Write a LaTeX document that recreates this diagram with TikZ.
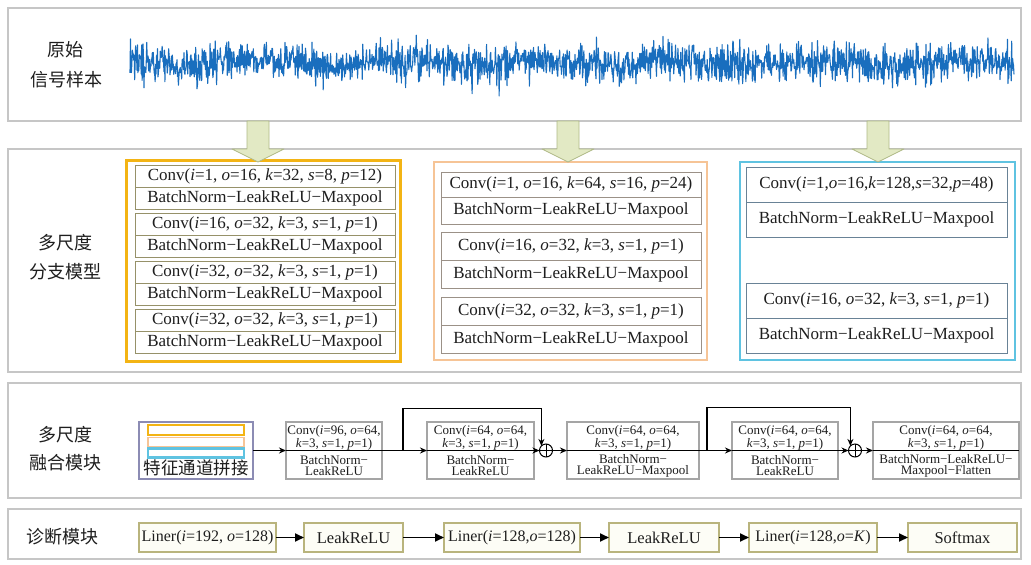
\documentclass[tikz,border=0pt]{standalone}
\usepackage{fontspec}
\setmainfont{Liberation Serif}
\newfontfamily\cjk{Noto Sans CJK SC}
\usetikzlibrary{arrows.meta,calc}

\definecolor{panelgray}{RGB}{198,198,198}
\definecolor{sigblue}{RGB}{25,110,190}
\definecolor{ybr}{RGB}{243,180,20}
\definecolor{obr}{RGB}{246,196,150}
\definecolor{bbr}{RGB}{95,195,225}
\definecolor{yrowc}{RGB}{150,145,105}
\definecolor{orowc}{RGB}{155,145,135}
\definecolor{browc}{RGB}{105,130,150}
\definecolor{arrfill}{RGB}{226,233,196}
\definecolor{arrdraw}{RGB}{175,185,135}
\definecolor{catdraw}{RGB}{140,140,180}
\definecolor{fboxc}{RGB}{165,165,165}
\definecolor{dboxc}{RGB}{185,180,125}
\definecolor{txt}{RGB}{30,30,30}

\newcommand\itv[1]{\textit{#1}}
\newcommand\fatarrow[1]{%
  \draw[fatarr] ($(#1)+(-11,0)$) -- ++(22,0) -- ++(0,28) -- ++(15,0)
    -- ++(-26,13) -- ++(-26,-13) -- ++(15,0) -- cycle;}

\begin{document}
\begin{tikzpicture}[x=1pt,y=-1pt,
  panel/.style={draw=panelgray, line width=1.5pt, fill=white, anchor=north west,
    inner sep=0, outer sep=0},
  lbl/.style={font=\cjk\fontsize{18}{30}\selectfont, text=txt, align=center, inner sep=0},
  branch/.style={line width=#1, fill=white, anchor=north west, inner sep=0, outer sep=0},
  rowbox/.style={draw=#1, line width=1pt, fill=white, anchor=north west, inner sep=0,
    outer sep=0, font=\fontsize{17}{20}\selectfont, text=txt},
  fatarr/.style={fill=arrfill, draw=arrdraw, line width=0.8pt, line join=round},
  sig/.style={sigblue, line width=1.1pt, line join=round},
  fbox/.style={draw=fboxc, line width=1.4pt, fill=white, anchor=north west,
    inner sep=0, outer sep=0, minimum height=57},
  ftxt/.style={font=\fontsize{13}{11}\selectfont, text=txt, align=center, inner sep=0},
  flow/.style={line width=1.4pt, black},
  tip/.style={-{Stealth[length=7pt,width=6pt]}},
  skipline/.style={line width=1.6pt, black},
  addnode/.style={circle, draw=black, line width=1pt, fill=white, minimum size=13,
    inner sep=0, outer sep=0},
  dbox/.style={draw=dboxc, line width=1.5pt, fill={rgb,255:red,253;green,253;blue,246},
    anchor=north west, inner sep=0, outer sep=0, minimum height=29,
    font=\fontsize{16.5}{20}\selectfont, text=txt},
  lin/.style={dbox, font=\fontsize{16}{20}\selectfont},
  darr/.style={line width=1.8pt, black, -{Triangle[length=9pt,width=8pt]}}
]
\useasboundingbox (0,0) rectangle (1031,565);
\fill[white] (0,0) rectangle (1031,565);

% ---------- panels ----------
\node[panel, minimum width=1013, minimum height=113] (P1) at (8,8) {};
\node[panel, minimum width=1013, minimum height=223] (P2) at (8,149) {};
\node[panel, minimum width=1013, minimum height=115] (P3) at (8,383) {};
\node[panel, minimum width=1013, minimum height=50]  (P4) at (8,509) {};

% ---------- raw signal ----------
\node[lbl] (L1a) at (65,50) {原始};
\node[lbl] (L1b) at (66,80) {信号样本};
\pgfmathsetseed{42}
\draw[sig] plot[domain=130:1014, samples=1900]
  (\x, {63 + 8.5*(rand+rand+rand) + 18*rand*rand*rand + 3*sin(2.5*\x)});

% ---------- multi-scale branches ----------
\node[lbl] (L2a) at (65,243) {多尺度};
\node[lbl] (L2b) at (65,272) {分支模型};

\node[branch=3pt, draw=ybr, minimum width=274, minimum height=201] (BY) at (126,160) {};
\node[branch=2pt, draw=obr, minimum width=273, minimum height=198] (BO) at (434,162) {};
\node[branch=2.5pt, draw=bbr, minimum width=275, minimum height=198] (BB) at (740,162) {};

% yellow branch
\tikzset{yr/.style={rowbox=yrowc, minimum width=260, minimum height=22}}
\node[yr] (y1c) at (135,165) {Conv(\itv{i}=1, \itv{o}=16, \itv{k}=32, \itv{s}=8, \itv{p}=12)};
\node[yr] (y1b) at (y1c.south west) {BatchNorm−LeakReLU−Maxpool};
\node[yr] (y2c) at (135,213) {Conv(\itv{i}=16, \itv{o}=32, \itv{k}=3, \itv{s}=1, \itv{p}=1)};
\node[yr] (y2b) at (y2c.south west) {BatchNorm−LeakReLU−Maxpool};
\node[yr] (y3c) at (135,261) {Conv(\itv{i}=32, \itv{o}=32, \itv{k}=3, \itv{s}=1, \itv{p}=1)};
\node[yr] (y3b) at (y3c.south west) {BatchNorm−LeakReLU−Maxpool};
\node[yr] (y4c) at (135,309) {Conv(\itv{i}=32, \itv{o}=32, \itv{k}=3, \itv{s}=1, \itv{p}=1)};
\node[yr] (y4b) at (y4c.south west) {BatchNorm−LeakReLU−Maxpool};

% orange branch
\tikzset{orr/.style={rowbox=orowc, minimum width=260, minimum height=#1}}
\node[orr=25] (o1c) at (441,172) {Conv(\itv{i}=1, \itv{o}=16, \itv{k}=64, \itv{s}=16, \itv{p}=24)};
\node[orr=27] (o1b) at (o1c.south west) {BatchNorm−LeakReLU−Maxpool};
\node[orr=28] (o2c) at (441,232) {Conv(\itv{i}=16, \itv{o}=32, \itv{k}=3, \itv{s}=1, \itv{p}=1)};
\node[orr=28] (o2b) at (o2c.south west) {BatchNorm−LeakReLU−Maxpool};
\node[orr=28] (o3c) at (441,297) {Conv(\itv{i}=32, \itv{o}=32, \itv{k}=3, \itv{s}=1, \itv{p}=1)};
\node[orr=28] (o3b) at (o3c.south west) {BatchNorm−LeakReLU−Maxpool};

% blue branch
\tikzset{br/.style={rowbox=browc, minimum width=261, minimum height=35}}
\node[br] (b1c) at (746,167) {Conv(\itv{i}=1,\itv{o}=16,\itv{k}=128,\itv{s}=32,\itv{p}=48)};
\node[br] (b1b) at (b1c.south west) {BatchNorm−LeakReLU−Maxpool};
\node[br] (b2c) at (746,283) {Conv(\itv{i}=16, \itv{o}=32, \itv{k}=3, \itv{s}=1, \itv{p}=1)};
\node[br] (b2b) at (b2c.south west) {BatchNorm−LeakReLU−Maxpool};

% arrows from the signal into each branch
\coordinate (a1) at (258,121);
\coordinate (a2) at (568,121);
\coordinate (a3) at (878,121);
\fatarrow{a1}
\fatarrow{a2}
\fatarrow{a3}

% ---------- fusion module ----------
\node[lbl] (L3a) at (65,435) {多尺度};
\node[lbl] (L3b) at (65,463) {融合模块};

\node[draw=catdraw, line width=1.5pt, fill=white, anchor=north west, inner sep=0,
  outer sep=0, minimum width=114, minimum height=57] (Cat) at (139,422) {};
\draw[draw=ybr, line width=2.8pt] (148,425) rectangle (244,435);
\draw[draw=obr, line width=1.6pt] (148,437.5) rectangle (244,446.5);
\draw[draw=bbr, line width=2.2pt] (148,448.5) rectangle (244,457.5);
\node[font=\cjk\fontsize{17.5}{20}\selectfont, text=txt, inner sep=0] (CatT) at (196,468) {特征通道拼接};

\node[fbox, minimum width=96]  (F1) at (286,422) {};
\node[fbox, minimum width=107] (F2) at (427,422) {};
\node[fbox, minimum width=132] (F3) at (567,422) {};
\node[fbox, minimum width=106] (F4) at (732,422) {};
\node[fbox, minimum width=146] (F5) at (873,422) {};

\node[ftxt] (F1a) at ($(F1.center)+(0,-13)$) {Conv(\itv{i}=96, \itv{o}=64,\\ \itv{k}=3, \itv{s}=1, \itv{p}=1)};
\node[ftxt] (F1b) at ($(F1.center)+(0,15)$) {BatchNorm−\\LeakReLU};
\node[ftxt] (F2a) at ($(F2.center)+(0,-13)$) {Conv(\itv{i}=64, \itv{o}=64,\\ \itv{k}=3, \itv{s}=1, \itv{p}=1)};
\node[ftxt] (F2b) at ($(F2.center)+(0,15)$) {BatchNorm−\\LeakReLU};
\node[ftxt] (F3a) at ($(F3.center)+(0,-13)$) {Conv(\itv{i}=64, \itv{o}=64,\\ \itv{k}=3, \itv{s}=1, \itv{p}=1)};
\node[ftxt] (F3b) at ($(F3.center)+(0,15)$) {BatchNorm−\\LeakReLU−Maxpool};
\node[ftxt] (F4a) at ($(F4.center)+(0,-13)$) {Conv(\itv{i}=64, \itv{o}=64,\\ \itv{k}=3, \itv{s}=1, \itv{p}=1)};
\node[ftxt] (F4b) at ($(F4.center)+(0,15)$) {BatchNorm−\\LeakReLU};
\node[ftxt] (F5a) at ($(F5.center)+(0,-13)$) {Conv(\itv{i}=64, \itv{o}=64,\\ \itv{k}=3, \itv{s}=1, \itv{p}=1)};
\node[ftxt] (F5b) at ($(F5.center)+(0,15)$) {BatchNorm−LeakReLU−\\Maxpool−Flatten};

\node[addnode] (A1) at (546,450.5) {};
\node[addnode] (A2) at (855,450.5) {};
\draw[line width=1pt] (A1.north) -- (A1.south) (A1.west) -- (A1.east);
\draw[line width=1pt] (A2.north) -- (A2.south) (A2.west) -- (A2.east);

\coordinate (s1) at (403,450.5);
\coordinate (s2) at (707,450.5);

\draw[flow,tip] (Cat.east) -- (F1.west);
\draw[flow] (F1.west) -- (F1.east) -- (s1);
\draw[flow,tip] (s1) -- (F2.west);
\draw[flow] (F2.west) -- (F2.east);
\draw[flow,tip] (F2.east) -- (A1.west);
\draw[flow,tip] (A1.east) -- (F3.west);
\draw[flow] (F3.west) -- (F3.east) -- (s2);
\draw[flow,tip] (s2) -- (F4.west);
\draw[flow] (F4.west) -- (F4.east);
\draw[flow,tip] (F4.east) -- (A2.west);
\draw[flow,tip] (A2.east) -- (F5.west);
\draw[flow] (F5.west) -- (F5.east);
\draw[skipline,tip,line join=miter] (s1) -- ++(0,-42) -| (A1.135);
\draw[skipline,tip,line join=miter] (s2) -- ++(0,-43) -| (A2.135);

% ---------- diagnosis module ----------
\node[lbl] (L4) at (62,537) {诊断模块};
\node[lin, minimum width=137]  (D1) at (139,523) {Liner(\itv{i}=192, \itv{o}=128)};
\node[dbox, minimum width=99]  (D2) at (304,523) {LeakReLU};
\node[lin, minimum width=136]  (D3) at (444,523) {Liner(\itv{i}=128,\itv{o}=128)};
\node[dbox, minimum width=110] (D4) at (609,523) {LeakReLU};
\node[lin, minimum width=128]  (D5) at (749,523) {Liner(\itv{i}=128,\itv{o}=\itv{K})};
\node[dbox, minimum width=109] (D6) at (908,523) {Softmax};
\draw[darr] (D1) -- (D2);
\draw[darr] (D2) -- (D3);
\draw[darr] (D3) -- (D4);
\draw[darr] (D4) -- (D5);
\draw[darr] (D5) -- (D6);
\end{tikzpicture}
\end{document}
